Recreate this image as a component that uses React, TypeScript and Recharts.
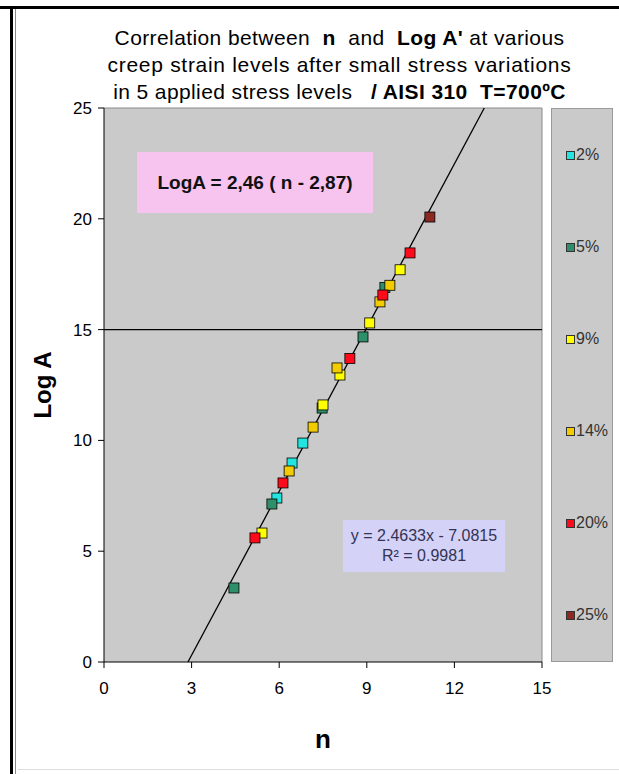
import React from 'react';
import { ScatterChart, Scatter, XAxis, YAxis, CartesianGrid, ReferenceLine } from 'recharts';

// n vs Log A' per creep strain level
const strain2 = [
  { n: 5.92, logA: 7.4 },
  { n: 6.44, logA: 8.98 },
  { n: 6.81, logA: 9.88 },
];
const strain5 = [
  { n: 4.45, logA: 3.34 },
  { n: 5.75, logA: 7.13 },
  { n: 7.47, logA: 11.46 },
  { n: 8.87, logA: 14.67 },
  { n: 9.62, logA: 16.9 },
];
const strain9 = [
  { n: 5.41, logA: 5.82 },
  { n: 7.5, logA: 11.6 },
  { n: 8.08, logA: 12.95 },
  { n: 9.1, logA: 15.3 },
  { n: 10.14, logA: 17.7 },
];
const strain14 = [
  { n: 6.34, logA: 8.62 },
  { n: 7.16, logA: 10.6 },
  { n: 7.98, logA: 13.27 },
  { n: 9.45, logA: 16.25 },
  { n: 9.79, logA: 17.0 },
];
const strain20 = [
  { n: 5.17, logA: 5.6 },
  { n: 6.13, logA: 8.08 },
  { n: 8.42, logA: 13.7 },
  { n: 9.55, logA: 16.56 },
  { n: 10.48, logA: 18.46 },
];
const strain25 = [{ n: 11.16, logA: 20.08 }];

const xTicks = [0, 3, 6, 9, 12, 15];
const yTicks = [0, 5, 10, 15, 20, 25];

// linear fit y = a x + b
const slope = 2.4633;
const intercept = -7.0815;

const series = [
  { name: '2%', data: strain2, color: '#22E5E0' },
  { name: '5%', data: strain5, color: '#2F8F6A' },
  { name: '9%', data: strain9, color: '#FFFF00' },
  { name: '14%', data: strain14, color: '#F2CC00' },
  { name: '20%', data: strain20, color: '#FF0A1A' },
  { name: '25%', data: strain25, color: '#8A2A22' },
];

const font = '"Liberation Sans", Arial, sans-serif';
const tickStyle = { fill: '#000', fontSize: 17, fontFamily: font };

const SquareMarker = (props: any) => {
  const { cx, cy, fill } = props;
  if (cx == null || cy == null) return null;
  return <rect x={cx - 5} y={cy - 5} width={10} height={10} fill={fill} stroke="#000" strokeWidth={0.8} />;
};

const App = () => {
  const fitStart = { x: -intercept / slope, y: 0 };
  const fitEnd = { x: (25 - intercept) / slope, y: 25 };

  return (
    <div style={{ position: 'absolute', left: 0, top: 0, width: 619, height: 774, background: '#fff', fontFamily: font, overflow: 'hidden' }}>
      {/* frame */}
      <div style={{ position: 'absolute', left: 0, top: 6, width: 619, height: 3, background: '#000' }} />
      <div style={{ position: 'absolute', left: 10, top: 6, width: 3, height: 768, background: '#000' }} />
      <div style={{ position: 'absolute', left: 15, top: 9, width: 1, height: 765, background: '#888' }} />
      <div style={{ position: 'absolute', left: 18, top: 769, width: 601, height: 1, background: '#ddd' }} />

      <div style={{ position: 'absolute', left: 0, top: 24, width: 679, textAlign: 'center', fontSize: 21, letterSpacing: 0.4, lineHeight: '27px', color: '#000' }}>
        <div>Correlation between&nbsp; <b>n</b>&nbsp; and&nbsp; <b>Log A'</b> at various</div>
        <div style={{ letterSpacing: 0.7 }}>creep strain levels after small stress variations</div>
        <div>in 5 applied stress levels &nbsp; <b>/ AISI 310&nbsp; T=700ºC</b></div>
      </div>

      <ScatterChart width={619} height={774} margin={{ top: 108, right: 77, bottom: 82, left: 64 }} style={{ position: 'absolute', left: 0, top: 0 }}>
        <CartesianGrid horizontal={false} vertical={false} fill="#CACACA" />
        <XAxis
          type="number"
          dataKey="n"
          domain={[0, 15]}
          ticks={xTicks}
          height={30}
          tickSize={6}
          tickMargin={14}
          fontSize={17}
          axisLine={{ stroke: '#000' }}
          tickLine={{ stroke: '#000' }}
          tick={{ ...tickStyle, style: tickStyle }}
          label={{ value: 'n', position: 'insideBottom', offset: -56, fill: '#000', fontSize: 26, fontWeight: 'bold', fontFamily: font }}
        />
        <YAxis
          type="number"
          dataKey="logA"
          domain={[0, 25]}
          ticks={yTicks}
          width={40}
          tickSize={6}
          tickMargin={6}
          fontSize={17}
          axisLine={{ stroke: '#000' }}
          tickLine={{ stroke: '#000' }}
          tick={{ ...tickStyle, style: tickStyle }}
          label={{ value: 'Log A', angle: -90, position: 'insideLeft', offset: -22, fill: '#000', fontSize: 24, fontWeight: 'bold', fontFamily: font, style: { textAnchor: 'middle' } }}
        />
        <ReferenceLine y={25} stroke="#8a8a8a" />
        <ReferenceLine x={15} stroke="#8a8a8a" />
        <ReferenceLine y={15} stroke="#000" strokeWidth={1.2} />
        <ReferenceLine segment={[fitStart, fitEnd]} stroke="#000" strokeWidth={1.3} />
        {series.map((s) => (
          <Scatter key={s.name} name={s.name} data={s.data} fill={s.color} shape={<SquareMarker />} isAnimationActive={false} />
        ))}
      </ScatterChart>

      <div style={{ position: 'absolute', left: 137, top: 152, width: 236, height: 61, background: '#F6C4EE', display: 'flex', alignItems: 'center', justifyContent: 'center', fontSize: 19, fontWeight: 'bold', color: '#111' }}>
        LogA = 2,46 ( n - 2,87)
      </div>

      <div style={{ position: 'absolute', left: 343, top: 520, width: 162, height: 52, background: '#D4D2F7', display: 'flex', flexDirection: 'column', alignItems: 'center', justifyContent: 'center', fontSize: 16, color: '#333355', lineHeight: '20px' }}>
        <div>y = 2.4633x - 7.0815</div>
        <div>R² = 0.9981</div>
      </div>

      <div style={{ position: 'absolute', left: 551, top: 108, width: 62, height: 554, background: '#CACACA', border: '1px solid #999', boxSizing: 'border-box', display: 'flex', flexDirection: 'column' }}>
        {series.map((s) => (
          <div key={s.name} style={{ flex: 1, display: 'flex', alignItems: 'center', paddingLeft: 14 }}>
            <span style={{ display: 'inline-block', width: 7, height: 7, background: s.color, border: '1px solid #333', marginRight: 1 }} />
            <span style={{ fontSize: 16, color: '#333' }}>{s.name}</span>
          </div>
        ))}
      </div>
    </div>
  );
};

export default App;
